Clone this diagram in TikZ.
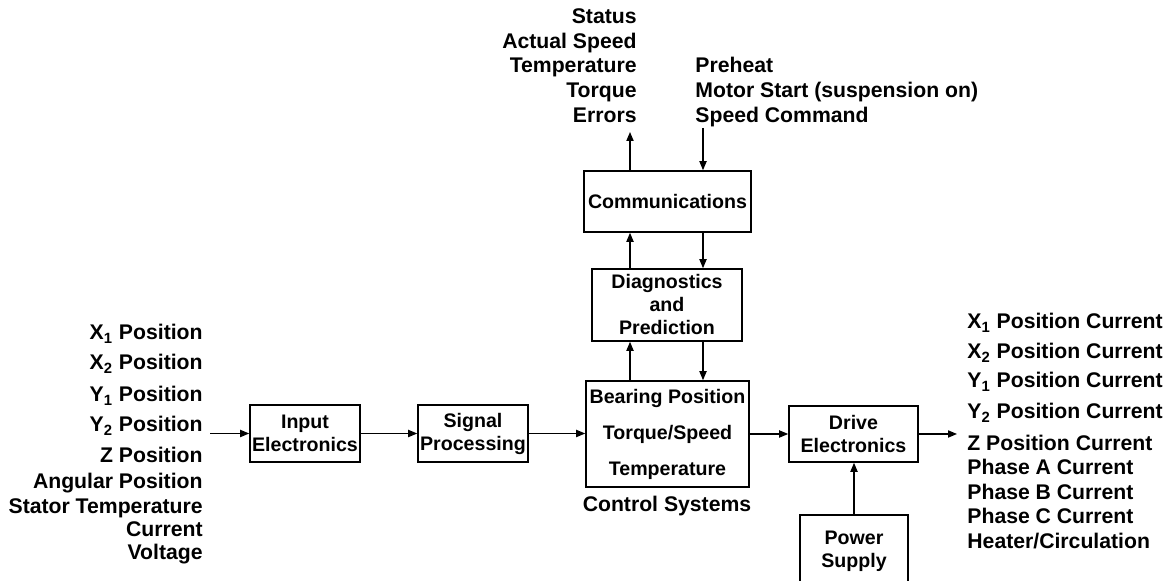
\documentclass[tikz,border=0pt]{standalone}
\usepackage{fontspec}
\setmainfont{Liberation Sans}
\usetikzlibrary{arrows.meta}

\begin{document}
\begin{tikzpicture}[
    x=0.5pt, y=-0.5pt,
    >={Triangle[length=4.5pt,width=3.6pt]},
    block/.style={draw,line width=0.8pt,align=center,inner sep=0pt,font=\fontsize{9.8}{11.5}\selectfont\bfseries},
    sig label/.style={inner sep=0pt,font=\fontsize{10.6}{12.4}\selectfont\bfseries},
    flow/.style={->,line width=0.6pt}
]

% Bildausschnitt
\clip (0,0) rectangle (1173,581);

% Bloecke
\node[block,minimum width=55pt,minimum height=28.5pt] (input) at (305,433.5) {Input\\Electronics};
\node[block,minimum width=55pt,minimum height=28.5pt] (signal) at (473,433.5) {Signal\\Processing};
\node[block,minimum width=81.5pt,minimum height=53pt] (control) at (667.5,434) {Bearing Position\\[6.5pt]Torque/Speed\\[6.5pt]Temperature};
\node[sig label] (ctrlname) at (667,506) {Control Systems};
\node[block,minimum width=75pt,minimum height=36pt] (diag) at (667,305) {Diagnostics\\and\\Prediction};
\node[block,minimum width=83.5pt,minimum height=30.5pt] (comm) at (667.5,201.5) {Communications};
\node[block,minimum width=64.5pt,minimum height=28pt] (drive) at (853.5,434) {Drive\\Electronics};
\node[block,minimum width=54pt,minimum height=36.5pt] (power) at (854,551.5) {Power\\Supply};

% Signallisten
\foreach \y/\t [count=\i] in {333/{X\textsubscript{1} Position},363/{X\textsubscript{2} Position},
    395/{Y\textsubscript{1} Position},425/{Y\textsubscript{2} Position},456/{Z Position},
    482/{Angular Position},507/{Stator Temperature},530/{Current},553/{Voltage}}
  \node[sig label,anchor=base east] (in\i) at (203,\y+7) {\t};

\foreach \y/\t [count=\i] in {322/{X\textsubscript{1} Position Current},352/{X\textsubscript{2} Position Current},
    381/{Y\textsubscript{1} Position Current},412/{Y\textsubscript{2} Position Current},444/{Z Position Current},
    468/{Phase A Current},493/{Phase B Current},517/{Phase C Current},542/{Heater/Circulation}}
  \node[sig label,anchor=base west] (out\i) at (967,\y+7) {\t};

\foreach \y/\t [count=\i] in {17/{Status},42/{Actual Speed},66/{Temperature},91/{Torque},116/{Errors}}
  \node[sig label,anchor=base east] (stat\i) at (637,\y+7) {\t};

\foreach \y/\t [count=\i] in {66/{Preheat},91/{Motor Start (suspension on)},116/{Speed Command}}
  \node[sig label,anchor=base west] (cmd\i) at (695,\y+7) {\t};

% Hilfspunkte
\coordinate (up) at (630,0);
\coordinate (dn) at (703,0);
\coordinate (intail) at (210,433.5);
\coordinate (outtip) at (957,434);
\coordinate (stattip) at (630,132);
\coordinate (cmdtail) at (703,128);

% Signalfluss
\draw[flow] (intail) -- (input.west);
\draw[flow] (input) -- (signal);
\draw[flow] (signal.east) -- (signal.east -| control.west);
\draw[flow] (control.east |- drive.west) -- (drive.west);
\draw[flow] (drive.east) -- (outtip);
\draw[flow] (power.north) -- (power.north |- drive.south);

\draw[flow] (control.north -| up) -- (diag.south -| up);
\draw[flow] (diag.south -| dn) -- (control.north -| dn);
\draw[flow] (diag.north -| up) -- (comm.south -| up);
\draw[flow] (comm.south -| dn) -- (diag.north -| dn);
\draw[flow] (comm.north -| up) -- (stattip);
\draw[flow] (cmdtail) -- (comm.north -| dn);

\end{tikzpicture}
\end{document}
